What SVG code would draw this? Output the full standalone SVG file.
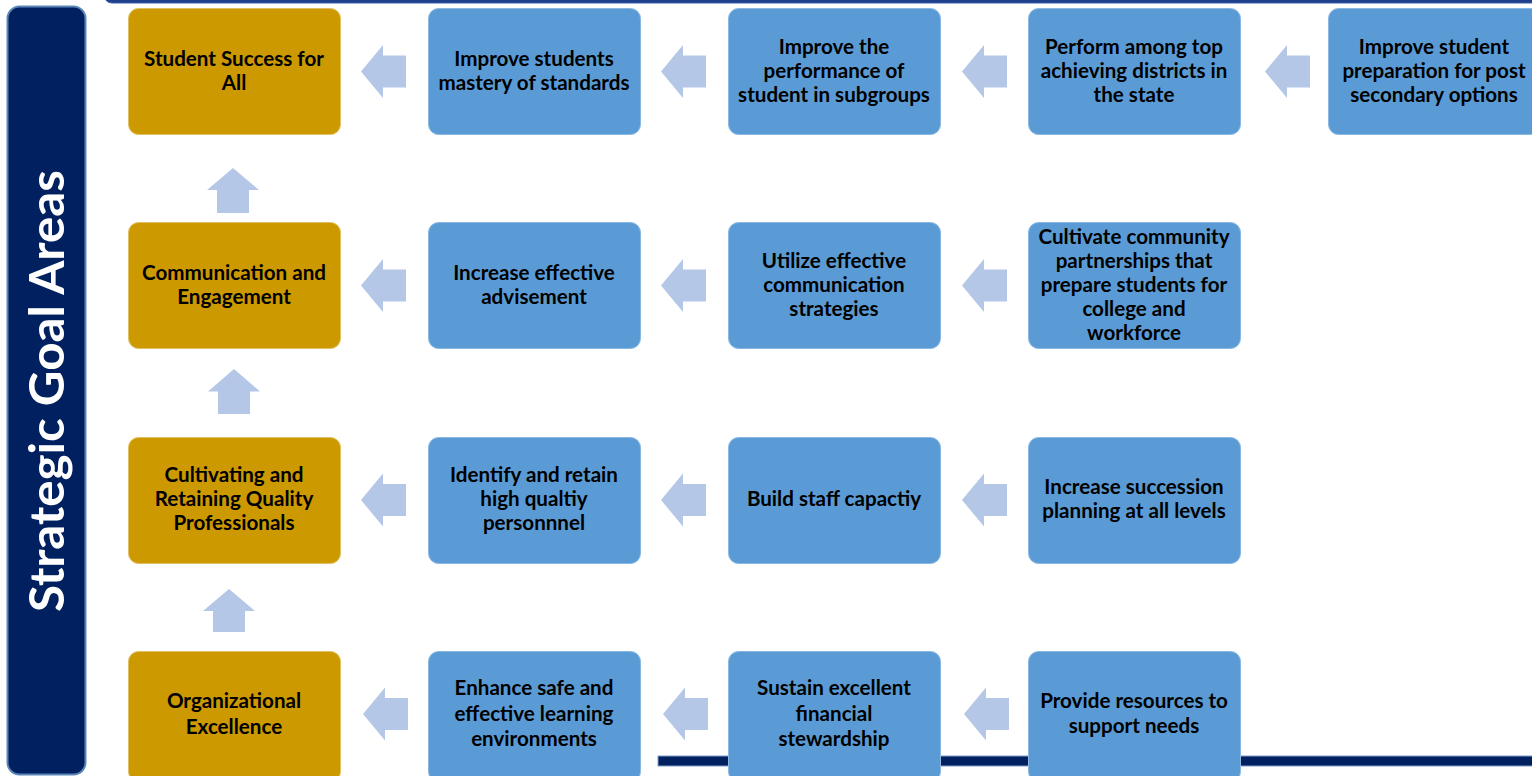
<svg xmlns="http://www.w3.org/2000/svg" width="1532" height="776" viewBox="0 0 1532 776">
<style>
.gold{fill:#CC9900;stroke:#E0C060;stroke-width:1}
.blue{fill:#5B9BD5;stroke:#8AB8E2;stroke-width:1}
.arr{fill:#B4C7E7}
.t{font-family:Lato,"Liberation Sans",sans-serif;font-weight:bold;font-size:20.6px;fill:#000;text-anchor:middle}
.t4{font-size:20.6px}
.title{font-family:Lato,"Liberation Sans",sans-serif;font-weight:bold;font-size:48px;fill:#fff;text-anchor:middle}
</style>
<rect x="0" y="0" width="1532" height="776" fill="#fff"/>
<rect x="104" y="-30" width="1440" height="33" rx="8" fill="#203F8A" stroke="#3A5FA8" stroke-width="1"/>
<g id="sidebar">
<rect x="7.5" y="6.5" width="78" height="768" rx="12" fill="#002060" stroke="#5B87B8" stroke-width="2"/>
<text class="title" transform="translate(64,391) rotate(-90)" textLength="442" lengthAdjust="spacingAndGlyphs">Strategic Goal Areas</text>
</g>
<g id="connectors">
<rect x="658" y="756" width="880" height="10" fill="#002060" stroke="#7F9FCF" stroke-width="1"/>
<g class="arr">
<polygon points="361,71.5 383,45 383,55.5 406,55.5 406,87.5 383,87.5 383,98"/>
<polygon points="661,71.5 683,45 683,55.5 706,55.5 706,87.5 683,87.5 683,98"/>
<polygon points="962,71.5 984,45 984,55.5 1007,55.5 1007,87.5 984,87.5 984,98"/>
<polygon points="1265,71.5 1287,45 1287,55.5 1310,55.5 1310,87.5 1287,87.5 1287,98"/>
<polygon points="361,285.5 383,259 383,269.5 406,269.5 406,301.5 383,301.5 383,312"/>
<polygon points="661,285.5 683,259 683,269.5 706,269.5 706,301.5 683,301.5 683,312"/>
<polygon points="962,285.5 984,259 984,269.5 1007,269.5 1007,301.5 984,301.5 984,312"/>
<polygon points="361,500 383,473.5 383,484 406,484 406,516 383,516 383,526.5"/>
<polygon points="661,500 683,473.5 683,484 706,484 706,516 683,516 683,526.5"/>
<polygon points="962,500 984,473.5 984,484 1007,484 1007,516 984,516 984,526.5"/>
<polygon points="363,714 385,687.5 385,698 408,698 408,730 385,730 385,740.5"/>
<polygon points="663,714 685,687.5 685,698 708,698 708,730 685,730 685,740.5"/>
<polygon points="964,714 986,687.5 986,698 1009,698 1009,730 986,730 986,740.5"/>
<polygon points="233,168 259,190 249,190 249,213 217,213 217,190 207,190"/>
<polygon points="234,369 260,391.5 250,391.5 250,414 218,414 218,391.5 208,391.5"/>
<polygon points="229,589 255,611 245,611 245,632 213,632 213,611 203,611"/>
</g>
</g>
<g id="n-student-success"><rect class="gold" x="128.5" y="8.5" width="212" height="126" rx="10"/><text class="t" x="234" y="66">Student Success for</text><text class="t" x="234" y="90">All</text></g>
<g id="n-mastery"><rect class="blue" x="428.5" y="8.5" width="212" height="126" rx="10"/><text class="t" x="534" y="66">Improve students</text><text class="t" x="534" y="90">mastery of standards</text></g>
<g id="n-subgroups"><rect class="blue" x="728.5" y="8.5" width="212" height="126" rx="10"/><text class="t" x="834" y="54">Improve the</text><text class="t" x="834" y="78">performance of</text><text class="t" x="834" y="102">student in subgroups</text></g>
<g id="n-top-districts"><rect class="blue" x="1028.5" y="8.5" width="212" height="126" rx="10"/><text class="t" x="1134" y="54">Perform among top</text><text class="t" x="1134" y="78">achieving districts in</text><text class="t" x="1134" y="102">the state</text></g>
<g id="n-post-secondary"><rect class="blue" x="1328.5" y="8.5" width="212" height="126" rx="10"/><text class="t" x="1434" y="54">Improve student</text><text class="t" x="1434" y="78">preparation for post</text><text class="t" x="1434" y="102">secondary options</text></g>

<g id="n-communication"><rect class="gold" x="128.5" y="222.5" width="212" height="126" rx="10"/><text class="t" x="234" y="280">Communication and</text><text class="t" x="234" y="304">Engagement</text></g>
<g id="n-advisement"><rect class="blue" x="428.5" y="222.5" width="212" height="126" rx="10"/><text class="t" x="534" y="280">Increase effective</text><text class="t" x="534" y="304">advisement</text></g>
<g id="n-comm-strategies"><rect class="blue" x="728.5" y="222.5" width="212" height="126" rx="10"/><text class="t" x="834" y="268">Utilize effective</text><text class="t" x="834" y="292">communication</text><text class="t" x="834" y="316">strategies</text></g>
<g id="n-partnerships"><rect class="blue" x="1028.5" y="222.5" width="212" height="126" rx="10"/><text class="t" x="1134" y="244">Cultivate community</text><text class="t" x="1134" y="268">partnerships that</text><text class="t" x="1134" y="292">prepare students for</text><text class="t" x="1134" y="316">college and</text><text class="t" x="1134" y="340">workforce</text></g>

<g id="n-professionals"><rect class="gold" x="128.5" y="437.5" width="212" height="126" rx="10"/><text class="t" x="234" y="482">Cultivating and</text><text class="t" x="234" y="506">Retaining Quality</text><text class="t" x="234" y="530">Professionals</text></g>
<g id="n-personnel"><rect class="blue" x="428.5" y="437.5" width="212" height="126" rx="10"/><text class="t" x="534" y="482">Identify and retain</text><text class="t" x="534" y="506">high qualtiy</text><text class="t" x="534" y="530">personnnel</text></g>
<g id="n-staff-capacity"><rect class="blue" x="728.5" y="437.5" width="212" height="126" rx="10"/><text class="t" x="834" y="506">Build staff capactiy</text></g>
<g id="n-succession"><rect class="blue" x="1028.5" y="437.5" width="212" height="126" rx="10"/><text class="t" x="1134" y="494">Increase succession</text><text class="t" x="1134" y="518">planning at all levels</text></g>

<g id="n-org-excellence"><rect class="gold" x="128.5" y="651.5" width="212" height="130" rx="10"/><text class="t t4" x="234" y="708">Organizational</text><text class="t t4" x="234" y="734">Excellence</text></g>
<g id="n-learning-env"><rect class="blue" x="428.5" y="651.5" width="212" height="130" rx="10"/><text class="t t4" x="534" y="695">Enhance safe and</text><text class="t t4" x="534" y="721">effective learning</text><text class="t t4" x="534" y="746">environments</text></g>
<g id="n-financial"><rect class="blue" x="728.5" y="651.5" width="212" height="130" rx="10"/><text class="t t4" x="834" y="695">Sustain excellent</text><text class="t t4" x="834" y="721">financial</text><text class="t t4" x="834" y="746">stewardship</text></g>
<g id="n-resources"><rect class="blue" x="1028.5" y="651.5" width="212" height="130" rx="10"/><text class="t t4" x="1134" y="708">Provide resources to</text><text class="t t4" x="1134" y="733">support needs</text></g>
</svg>
